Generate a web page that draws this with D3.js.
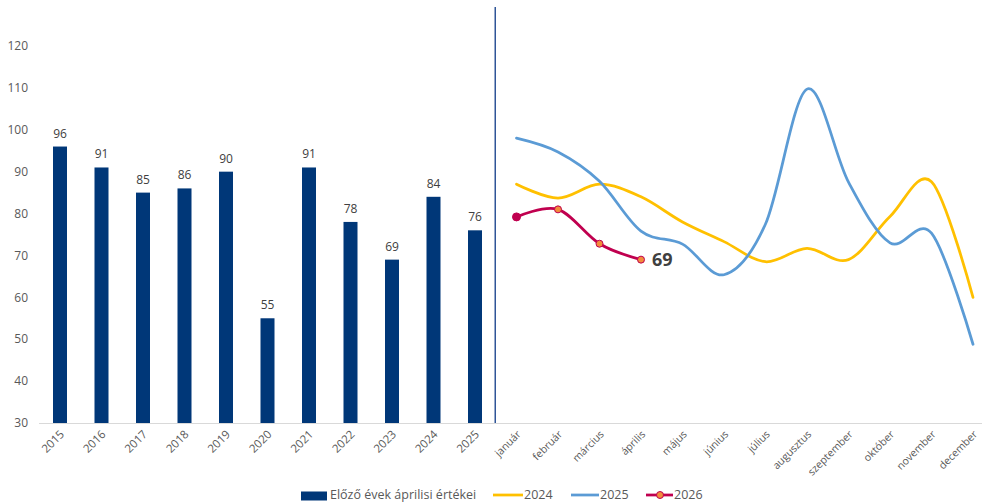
<!DOCTYPE html>
<html>
<head>
<meta charset="utf-8">
<script src="https://cdn.jsdelivr.net/npm/d3@7/dist/d3.min.js"></script>
<style>
  html, body { margin: 0; padding: 0; background: #fff; }
  svg { display: block; font-family: "Open Sans", "Liberation Sans", sans-serif; }
</style>
</head>
<body>
<svg id="chart" width="982" height="504"></svg>
<script>
// Past Aprils (bars)
const years = ["2015","2016","2017","2018","2019","2020","2021","2022","2023","2024","2025"];
const aprilValues = [96, 91, 85, 86, 90, 55, 91, 78, 69, 84, 76];

// Monthly series (lines)
const months = ["január","február","március","április","május","június","július","augusztus","szeptember","október","november","december"];
const values2024 = [87, 83.7, 87, 84, 78, 73.3, 68.5, 71.7, 69, 79.3, 87.6, 60];
const values2025 = [98, 94.7, 87.7, 75.8, 72.7, 65.4, 77.5, 109.7, 87.5, 73, 75.3, 48.8];
const values2026 = [79.2, 81, 72.8, 69];

const yTicks = [30, 40, 50, 60, 70, 80, 90, 100, 110, 120];

const legendLabels = ["Előző évek áprilisi értékei", "2024", "2025", "2026"];

const colors = {
  bar: "#003778",
  y2024: "#FFC000",
  y2025: "#5B9BD5",
  y2026: "#C0004F",
  marker: "#F28C3C",
  divider: "#2F5597",
  text: "#595959",
  label: "#404040",
  axis: "#D9D9D9"
};

const svg = d3.select("#chart");

const allCats = years.concat(months);
const x = d3.scaleBand().domain(allCats).range([39.25, 993.75]).paddingInner(0).paddingOuter(0);
const y = d3.scaleLinear().domain([30, 120]).range([423, 46]);

// Y axis labels only
svg.append("g").selectAll("text").data(yTicks).join("text")
  .attr("x", 28).attr("y", d => y(d)).attr("dy", "0.35em")
  .attr("text-anchor", "end")
  .attr("font-size", 12).attr("fill", colors.text)
  .text(d => d);

// Baseline
svg.append("line")
  .attr("x1", 39).attr("x2", 982)
  .attr("y1", y(30) + 0.5).attr("y2", y(30) + 0.5)
  .attr("stroke", colors.axis).attr("stroke-width", 1);

// Bars
const barW = 14;
svg.append("g").selectAll("rect").data(years).join("rect")
  .attr("x", (d) => x(d) + x.bandwidth() / 2 - barW / 2)
  .attr("width", barW)
  .attr("y", (d, i) => y(aprilValues[i]))
  .attr("height", (d, i) => y(30) - y(aprilValues[i]))
  .attr("fill", colors.bar);

// Bar value labels
svg.append("g").selectAll("text").data(years).join("text")
  .attr("x", d => x(d) + x.bandwidth() / 2)
  .attr("y", (d, i) => y(aprilValues[i]) - 9)
  .attr("text-anchor", "middle")
  .attr("font-size", 12).attr("fill", colors.label)
  .text((d, i) => aprilValues[i]);

// Divider between yearly and monthly parts
const divX = x(months[0]) - 0.5;
svg.append("line")
  .attr("x1", divX).attr("x2", divX)
  .attr("y1", 7).attr("y2", y(30))
  .attr("stroke", colors.divider).attr("stroke-width", 1.5);

// X axis labels, rotated
svg.append("g").selectAll("text").data(allCats).join("text")
  .attr("transform", d => `translate(${x(d) + x.bandwidth() / 2 + 5},${y(30) + 12}) rotate(-45)`)
  .attr("text-anchor", "end")
  .attr("font-size", d => years.includes(d) ? 11.5 : 10.5)
  .attr("fill", colors.text)
  .text(d => d);

// Lines
const line = d3.line()
  .x((d, i) => x(months[i]) + x.bandwidth() / 2)
  .y(d => y(d))
  .curve(d3.curveCardinal.tension(0));

svg.append("path").datum(values2024)
  .attr("d", line).attr("fill", "none")
  .attr("stroke", colors.y2024).attr("stroke-width", 2.75).attr("stroke-linecap", "round");

svg.append("path").datum(values2025)
  .attr("d", line).attr("fill", "none")
  .attr("stroke", colors.y2025).attr("stroke-width", 2.75).attr("stroke-linecap", "round");

svg.append("path").datum(values2026)
  .attr("d", line).attr("fill", "none")
  .attr("stroke", colors.y2026).attr("stroke-width", 2.75).attr("stroke-linecap", "round");

svg.append("g").selectAll("circle").data(values2026).join("circle")
  .attr("cx", (d, i) => x(months[i]) + x.bandwidth() / 2)
  .attr("cy", d => y(d))
  .attr("r", (d, i) => i === 0 ? 4 : 3.5)
  .attr("fill", (d, i) => i === 0 ? colors.y2026 : colors.marker)
  .attr("stroke", colors.y2026).attr("stroke-width", 1);

// Last value label
const lastI = values2026.length - 1;
svg.append("text")
  .attr("x", x(months[lastI]) + x.bandwidth() / 2 + 11)
  .attr("y", y(values2026[lastI])).attr("dy", "0.35em")
  .attr("font-size", 18).attr("font-weight", "bold").attr("fill", colors.label)
  .text(values2026[lastI]);

// Legend
const lg = svg.append("g").attr("font-size", 12.5).attr("fill", colors.text);
const ly = 495;
lg.append("rect").attr("x", 301).attr("y", ly - 3.5).attr("width", 26).attr("height", 9).attr("fill", colors.bar);
lg.append("text").attr("x", 330).attr("y", ly).attr("dy", "0.35em").text(legendLabels[0]);

lg.append("line").attr("x1", 493).attr("x2", 523).attr("y1", ly).attr("y2", ly)
  .attr("stroke", colors.y2024).attr("stroke-width", 2.75);
lg.append("text").attr("x", 524).attr("y", ly).attr("dy", "0.35em").text(legendLabels[1]);

lg.append("line").attr("x1", 571).attr("x2", 599).attr("y1", ly).attr("y2", ly)
  .attr("stroke", colors.y2025).attr("stroke-width", 2.75);
lg.append("text").attr("x", 600).attr("y", ly).attr("dy", "0.35em").text(legendLabels[2]);

lg.append("line").attr("x1", 646).attr("x2", 673).attr("y1", ly).attr("y2", ly)
  .attr("stroke", colors.y2026).attr("stroke-width", 2.75);
lg.append("circle").attr("cx", 660).attr("cy", ly).attr("r", 3.5)
  .attr("fill", colors.marker).attr("stroke", colors.y2026).attr("stroke-width", 1);
lg.append("text").attr("x", 674).attr("y", ly).attr("dy", "0.35em").text(legendLabels[3]);
</script>
</body>
</html>
